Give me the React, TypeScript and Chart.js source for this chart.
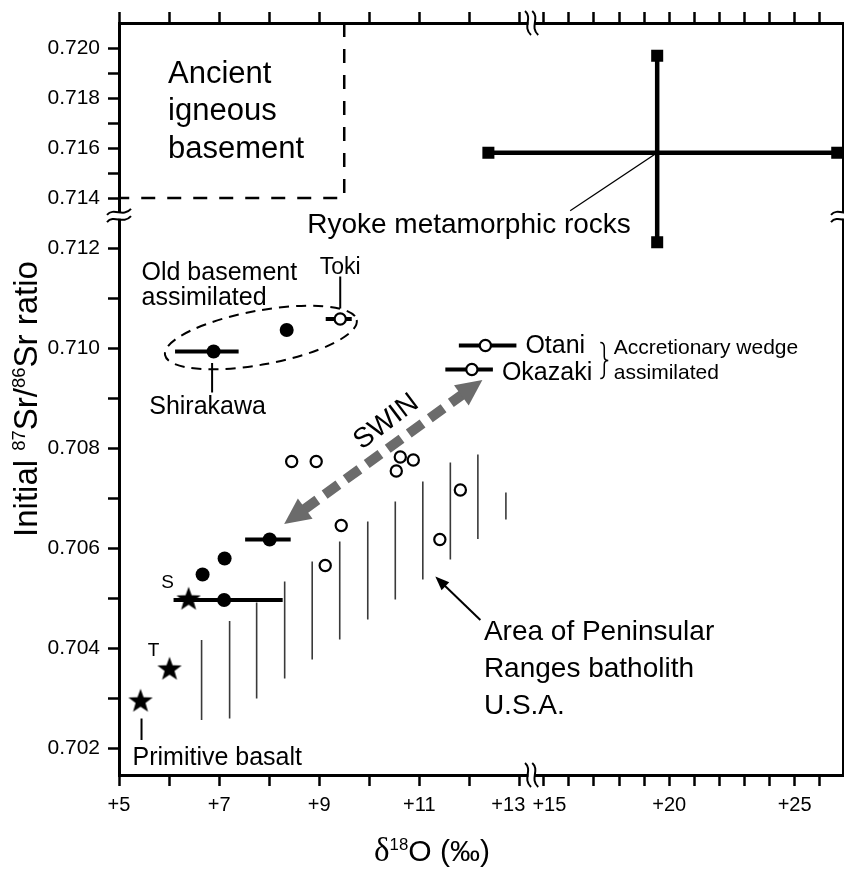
import React, { useEffect, useRef } from 'react';
import { Chart, registerables, LinearScale } from 'chart.js';

Chart.register(...registerables);

// ---------------- data ----------------
// filled circles (Japanese granitoids)
const filledX = [6.89, 8.35, 8.01, 7.11, 6.67, 7.10];
const filledY = [0.70993, 0.71036, 0.70617, 0.70579, 0.70547, 0.70496];

// open circles
const openX = [9.42, 12.32, 12.05, 8.45, 8.94, 10.62, 10.54, 10.88, 11.82, 9.44, 9.12, 11.41];
const openY = [0.71058, 0.71005, 0.70957, 0.70773, 0.70773, 0.70782, 0.70754, 0.70776, 0.70716, 0.70645, 0.70565, 0.70617];

// stars (S, T, primitive basalt)
const starX = [6.39, 6.01, 5.43];
const starY = [0.70499, 0.70359, 0.70295];

// horizontal error bars
const barY = [0.70993, 0.71058, 0.71005, 0.70957, 0.70617, 0.70496];
const barLow = [6.12, 9.13, 11.79, 11.52, 7.52, 6.09];
const barHigh = [7.39, 9.65, 12.94, 12.47, 8.43, 8.27];

// Peninsular Ranges batholith hatch lines
const hatchX = [6.65, 7.21, 7.75, 8.31, 8.86, 9.41, 9.97, 10.52, 11.07, 11.62, 12.17, 12.73];
const hatchTop = [0.70416, 0.70454, 0.70491, 0.70533, 0.70573, 0.70613, 0.70653, 0.70693, 0.70733, 0.70771, 0.70787, 0.70711];
const hatchBottom = [0.70256, 0.70259, 0.70299, 0.70339, 0.70377, 0.70417, 0.70457, 0.70497, 0.70537, 0.70577, 0.70618, 0.70657];

// Ryoke metamorphic rocks range: [min, centre, max]
const ryokeX = [12.38, 19.52, 26.7];
const ryokeY = [0.71223, 0.71581, 0.71969];

// Ancient igneous basement field: x from/to, y from/to
const basementBoxX = [5, 9.5];
const basementBoxY = [0.714, 0.721];

// axes
const xTicks = [5, 6, 7, 8, 9, 10, 11, 12, 13, 15, 16, 17, 18, 19, 20, 21, 22, 23, 24, 25, 26];
const xLabelValues = [5, 7, 9, 11, 13, 15, 20, 25];
const xLabelTexts = ['+5', '+7', '+9', '+11', '+13', '+15', '+20', '+25'];
const yTicks = [0.702, 0.703, 0.704, 0.705, 0.706, 0.707, 0.708, 0.709, 0.71, 0.711, 0.712, 0.714, 0.715, 0.716, 0.717, 0.718, 0.719, 0.72];
const yLabelValues = [0.702, 0.704, 0.706, 0.708, 0.71, 0.712, 0.714, 0.716, 0.718, 0.72];
const yLabelTexts = ['0.702', '0.704', '0.706', '0.708', '0.710', '0.712', '0.714', '0.716', '0.718', '0.720'];

const X_MIN = 5;
const X_MAX = 26.93;
const Y_MIN = 0.70146;
const Y_MAX = 0.721;

// ---------------- broken (piecewise linear) scale ----------------
type Seg = { from: number; to: number; w: number };
const SEGMENTS: Record<string, Seg[]> = {
  x: [
    { from: X_MIN, to: 13, w: 50 },
    { from: 13, to: 15, w: 12.2 },
    { from: 15, to: X_MAX, w: 25.05 },
  ],
  y: [
    { from: Y_MIN, to: 0.712, w: 50000 },
    { from: 0.712, to: Y_MAX, w: 25000 },
  ],
};

function segTotal(segs: Seg[]) {
  let t = 0;
  for (const s of segs) t += (s.to - s.from) * s.w;
  return t;
}
function toDecimal(v: number, segs: Seg[]) {
  const total = segTotal(segs);
  let acc = 0;
  for (let i = 0; i < segs.length; i++) {
    const s = segs[i];
    if (v <= s.to || i === segs.length - 1) return (acc + (v - s.from) * s.w) / total;
    acc += (s.to - s.from) * s.w;
  }
  return 0;
}
function fromDecimal(d: number, segs: Seg[]) {
  let t = d * segTotal(segs);
  for (let i = 0; i < segs.length; i++) {
    const s = segs[i];
    const len = (s.to - s.from) * s.w;
    if (t <= len || i === segs.length - 1) return s.from + t / s.w;
    t -= len;
  }
  return 0;
}

class BrokenScale extends LinearScale {
  static id = 'broken';
  static defaults = LinearScale.defaults;
  getPixelForValue(value: any) {
    if (value === null || value === undefined || Number.isNaN(+value)) return NaN;
    return this.getPixelForDecimal(toDecimal(+value, SEGMENTS[(this as any).axis]));
  }
  getValueForPixel(pixel: number) {
    return fromDecimal(this.getDecimalForPixel(pixel), SEGMENTS[(this as any).axis]);
  }
}
Chart.register(BrokenScale as any);

// ---------------- helpers ----------------
const FONT = '"Liberation Sans", Arial, Helvetica, sans-serif';
const near = (a: number, b: number) => Math.abs(a - b) < 1e-7;

function xLabel(v: number) {
  const i = xLabelValues.findIndex((u) => near(u, v));
  if (i < 0) return '';
  const t = xLabelTexts[i];
  if (near(v, 13)) return t + '    ';
  if (near(v, 15)) return '  ' + t;
  return t;
}
function yLabel(v: number) {
  const i = yLabelValues.findIndex((u) => near(u, v));
  return i < 0 ? '' : yLabelTexts[i];
}

function makeStar(): HTMLCanvasElement {
  const c = document.createElement('canvas');
  c.width = 28;
  c.height = 28;
  const g = c.getContext('2d')!;
  const R = 12.8;
  const r = 5.2;
  g.beginPath();
  for (let k = 0; k < 10; k++) {
    const rad = k % 2 === 0 ? R : r;
    const a = -Math.PI / 2 + (k * Math.PI) / 5;
    const px = 14 + rad * Math.cos(a);
    const py = 15 + rad * Math.sin(a);
    if (k === 0) g.moveTo(px, py);
    else g.lineTo(px, py);
  }
  g.closePath();
  g.fillStyle = '#000';
  g.fill();
  return c;
}

function drawBreak(ctx: CanvasRenderingContext2D, cx: number, cy: number, vertical: boolean) {
  ctx.save();
  ctx.translate(cx, cy);
  if (vertical) ctx.rotate(Math.PI / 2);
  ctx.fillStyle = '#fff';
  ctx.fillRect(-3, -3.2, 6, 6.4);
  ctx.strokeStyle = '#000';
  ctx.lineWidth = 2;
  for (const off of [-3.6, 3.6]) {
    ctx.beginPath();
    ctx.moveTo(-12, off + 3);
    ctx.bezierCurveTo(-5, off - 5, 4, off + 6, 12, off - 3);
    ctx.stroke();
  }
  ctx.restore();
}

type Part = { t: string; sup?: boolean; family?: string; scale?: number };
function drawRich(ctx: CanvasRenderingContext2D, parts: Part[], x: number, y: number, size: number) {
  const fontOf = (p: Part) => {
    const s = p.sup ? size * 0.56 : size * (p.scale || 1);
    return `${s}px ${p.family || FONT}`;
  };
  const widths = parts.map((p) => {
    ctx.font = fontOf(p);
    return ctx.measureText(p.t).width;
  });
  let cur = x - widths.reduce((a, b) => a + b, 0) / 2;
  ctx.textAlign = 'left';
  ctx.textBaseline = 'alphabetic';
  parts.forEach((p, i) => {
    ctx.font = fontOf(p);
    ctx.fillText(p.t, cur, p.sup ? y - size * 0.36 : y);
    cur += widths[i];
  });
}

// drawn under the data points
const underlayPlugin = {
  id: 'underlay',
  beforeDatasetsDraw(chart: any) {
    const ctx: CanvasRenderingContext2D = chart.ctx;
    const xs = chart.scales.x;
    const ys = chart.scales.y;
    const X = (v: number) => xs.getPixelForValue(v);
    const Y = (v: number) => ys.getPixelForValue(v);
    ctx.save();
    ctx.strokeStyle = '#000';
    ctx.lineCap = 'butt';

    // dashed ellipse: old basement assimilated
    const ex1 = X(5.92), ey1 = Y(0.70986), ex2 = X(9.75), ey2 = Y(0.71056);
    ctx.beginPath();
    ctx.setLineDash([10, 7]);
    ctx.lineWidth = 2;
    ctx.ellipse((ex1 + ex2) / 2, (ey1 + ey2) / 2, Math.hypot(ex2 - ex1, ey2 - ey1) / 2, 27, Math.atan2(ey2 - ey1, ex2 - ex1), 0, Math.PI * 2);
    ctx.stroke();
    ctx.setLineDash([]);

    const seg = (x1: number, y1: number, x2: number, y2: number, w: number) => {
      ctx.beginPath();
      ctx.lineWidth = w;
      ctx.moveTo(X(x1), Y(y1));
      ctx.lineTo(X(x2), Y(y2));
      ctx.stroke();
    };
    // label leaders
    seg(9.42, 0.71143, 9.42, 0.71079, 2);
    seg(6.86, 0.7097, 6.86, 0.70911, 2);
    seg(5.45, 0.70259, 5.45, 0.70216, 2);
    seg(19.52, 0.71581, 16.05, 0.71349, 1.3);

    // SWIN double arrow
    const ax = X(8.3), ay = Y(0.70648), bx = X(12.26), by = Y(0.70936);
    const len = Math.hypot(bx - ax, by - ay);
    const ux = (bx - ax) / len, uy = (by - ay) / len;
    const L = 26, W = 12.5;
    ctx.strokeStyle = '#6b6b6b';
    ctx.fillStyle = '#6b6b6b';
    ctx.lineWidth = 10;
    ctx.setLineDash([17, 9]);
    ctx.beginPath();
    ctx.moveTo(ax + ux * (L - 2), ay + uy * (L - 2));
    ctx.lineTo(bx - ux * (L - 2), by - uy * (L - 2));
    ctx.stroke();
    ctx.setLineDash([]);
    const head = (tx: number, ty: number, dx: number, dy: number) => {
      ctx.beginPath();
      ctx.moveTo(tx, ty);
      ctx.lineTo(tx + dx * L - dy * W, ty + dy * L + dx * W);
      ctx.lineTo(tx + dx * L + dy * W, ty + dy * L - dx * W);
      ctx.closePath();
      ctx.fill();
    };
    head(ax, ay, ux, uy);
    head(bx, by, -ux, -uy);

    // arrow to the Peninsular Ranges field
    const px1 = X(12.22), py1 = Y(0.70456), px2 = X(11.32), py2 = Y(0.70543);
    const l2 = Math.hypot(px2 - px1, py2 - py1);
    const vx = (px1 - px2) / l2, vy = (py1 - py2) / l2;
    ctx.strokeStyle = '#000';
    ctx.fillStyle = '#000';
    ctx.lineWidth = 2;
    ctx.beginPath();
    ctx.moveTo(px1, py1);
    ctx.lineTo(px2 + vx * 10, py2 + vy * 10);
    ctx.stroke();
    ctx.beginPath();
    ctx.moveTo(px2, py2);
    ctx.lineTo(px2 + vx * 14 - vy * 5.5, py2 + vy * 14 + vx * 5.5);
    ctx.lineTo(px2 + vx * 14 + vy * 5.5, py2 + vy * 14 - vx * 5.5);
    ctx.closePath();
    ctx.fill();
    ctx.restore();
  },
};

// texts, axis breaks and axis titles
const overlayPlugin = {
  id: 'overlay',
  afterDraw(chart: any) {
    const ctx: CanvasRenderingContext2D = chart.ctx;
    const area = chart.chartArea;
    const xs = chart.scales.x;
    const ys = chart.scales.y;
    const X = (v: number) => xs.getPixelForValue(v);
    const Y = (v: number) => ys.getPixelForValue(v);
    ctx.save();
    ctx.fillStyle = '#000';
    ctx.strokeStyle = '#000';
    const text = (s: string, xv: number, yv: number, size: number, align: CanvasTextAlign = 'left', baseline: CanvasTextBaseline = 'alphabetic', dx = 0, dy = 0) => {
      ctx.font = `${size}px ${FONT}`;
      ctx.textAlign = align;
      ctx.textBaseline = baseline;
      ctx.fillText(s, X(xv) + dx, Y(yv) + dy);
    };

    // axis breaks
    drawBreak(ctx, area.left, Y(0.7133), false);
    drawBreak(ctx, area.right, Y(0.7133), false);
    drawBreak(ctx, X(14), area.bottom, true);
    drawBreak(ctx, X(14), area.top, true);

    // annotations
    text('Ancient', 5.98, 0.718588, 31);
    text('igneous', 5.98, 0.71712, 31);
    text('basement', 5.98, 0.7156, 31);
    text('Ryoke metamorphic rocks', 8.76, 0.71259, 28);
    text('Old basement', 5.45, 0.71136, 25);
    text('assimilated', 5.45, 0.71086, 25);
    text('Toki', 9.42, 0.71148, 23, 'center');
    text('Shirakawa', 6.77, 0.70869, 25, 'center');
    text('Otani', 12.94, 0.71005, 25, 'left', 'alphabetic', 9, 7.6);
    text('Okazaki', 12.47, 0.70957, 25, 'left', 'alphabetic', 9, 10);
    text('Accretionary wedge', 17.79, 0.70988, 21);
    text('assimilated', 17.79, 0.70939, 21);
    text('Area of Peninsular', 12.29, 0.70416, 28);
    text('Ranges batholith', 12.29, 0.70343, 28);
    text('U.S.A.', 12.29, 0.70269, 28);
    text('S', 5.97, 0.70531, 19, 'center', 'middle');
    text('T', 5.69, 0.70395, 19, 'center', 'middle');
    text('Primitive basalt', 5.27, 0.70166, 25);

    // brace
    const bx = X(17.37), bt = Y(0.71011), bb = Y(0.70939), bm = (bt + bb) / 2;
    ctx.lineWidth = 1.5;
    ctx.beginPath();
    ctx.moveTo(bx - 3, bt);
    ctx.quadraticCurveTo(bx + 1, bt, bx + 1, bt + 5);
    ctx.lineTo(bx + 1, bm - 4);
    ctx.quadraticCurveTo(bx + 1, bm, bx + 5, bm);
    ctx.quadraticCurveTo(bx + 1, bm, bx + 1, bm + 4);
    ctx.lineTo(bx + 1, bb - 5);
    ctx.quadraticCurveTo(bx + 1, bb, bx - 3, bb);
    ctx.stroke();

    // SWIN label along arrow
    ctx.save();
    ctx.translate(X(10.34), Y(0.70852));
    ctx.rotate((-37 * Math.PI) / 180);
    ctx.font = `28px ${FONT}`;
    ctx.textAlign = 'center';
    ctx.textBaseline = 'middle';
    ctx.fillText('SWIN', 0, 0);
    ctx.restore();

    // axis titles
    ctx.save();
    ctx.translate(37, (area.top + area.bottom) / 2);
    ctx.rotate(-Math.PI / 2);
    drawRich(ctx, [{ t: 'Initial ' }, { t: '87', sup: true }, { t: 'Sr/' }, { t: '86', sup: true }, { t: 'Sr ratio' }], 0, 0, 33);
    ctx.restore();
    drawRich(ctx, [{ t: 'δ', family: '"Liberation Serif", "DejaVu Serif", serif', scale: 1.1 }, { t: '18', sup: true }, { t: 'O (‰)' }], area.left + 313, 861, 30);
    ctx.restore();
  },
};

const pts = (xs: number[], ys: number[]) => xs.map((x, i) => ({ x, y: ys[i] }));
const GAP = { x: null as any, y: null as any };

export default function App() {
  const ref = useRef<HTMLCanvasElement>(null);
  useEffect(() => {
    document.body.style.margin = '0';
    const canvas = ref.current!;
    const star = makeStar();

    const barData = barY.flatMap((y, i) => [{ x: barLow[i], y }, { x: barHigh[i], y }, GAP]);
    const hatchData = hatchX.flatMap((x, i) => [{ x, y: hatchTop[i] }, { x, y: hatchBottom[i] }, GAP]);
    const ryokeH = [{ x: ryokeX[0], y: ryokeY[1] }, { x: ryokeX[2], y: ryokeY[1] }];
    const ryokeV = [{ x: ryokeX[1], y: ryokeY[0] }, { x: ryokeX[1], y: ryokeY[2] }];
    const boxData = [
      { x: basementBoxX[1], y: basementBoxY[1] },
      { x: basementBoxX[1], y: basementBoxY[0] },
      { x: basementBoxX[0], y: basementBoxY[0] },
    ];

    const tickGrid = { drawOnChartArea: false, drawTicks: true, tickLength: 11, tickWidth: 2.5, tickColor: '#000' };
    const border = { display: true, width: 3, color: '#000' };

    const chart = new Chart(canvas, {
      type: 'line',
      data: {
        datasets: [
          { label: 'filled', data: pts(filledX, filledY), showLine: false, pointRadius: 7, pointBackgroundColor: '#000', pointBorderColor: '#000', pointBorderWidth: 0, order: 0 } as any,
          { label: 'open', data: pts(openX, openY), showLine: false, pointRadius: 5.6, pointBackgroundColor: '#fff', pointBorderColor: '#000', pointBorderWidth: 2.2, order: 1 },
          { label: 'stars', data: pts(starX, starY), showLine: false, pointStyle: star, pointRadius: 12, order: 2 },
          { label: 'bars', data: barData, borderColor: '#000', borderWidth: 4, pointRadius: 0, order: 5 },
          { label: 'ryokeH', data: ryokeH, borderColor: '#000', borderWidth: 4.5, pointStyle: 'rect', pointRadius: 8.5, pointBackgroundColor: '#000', pointBorderWidth: 0, order: 6 },
          { label: 'ryokeV', data: ryokeV, borderColor: '#000', borderWidth: 4.5, pointStyle: 'rect', pointRadius: 8.5, pointBackgroundColor: '#000', pointBorderWidth: 0, order: 7 },
          { label: 'box', data: boxData, borderColor: '#000', borderWidth: 2.5, borderDash: [14, 12], pointRadius: 0, order: 8 },
          { label: 'hatch', data: hatchData, borderColor: '#3a3a3a', borderWidth: 1.6, pointRadius: 0, order: 9 },
        ],
      },
      options: {
        animation: false,
        responsive: false,
        events: [],
        layout: { padding: 0, autoPadding: false },
        plugins: { legend: { display: false }, tooltip: { enabled: false } },
        scales: {
          x: {
            type: 'broken' as any,
            position: 'bottom',
            min: X_MIN,
            max: X_MAX,
            afterBuildTicks: (s: any) => { s.ticks = xTicks.map((v) => ({ value: v })); },
            afterFit: (s: any) => { s.height = 95; },
            ticks: { autoSkip: false, maxRotation: 0, minRotation: 0, padding: 7, color: '#000', font: { family: FONT, size: 20 }, callback: (v: any) => xLabel(+v) },
            grid: tickGrid,
            border,
          },
          x2: {
            type: 'broken' as any,
            position: 'top',
            axis: 'x',
            min: X_MIN,
            max: X_MAX,
            afterBuildTicks: (s: any) => { s.ticks = xTicks.map((v) => ({ value: v })); },
            afterFit: (s: any) => { s.height = 23; },
            ticks: { display: false },
            grid: tickGrid,
            border,
          },
          y: {
            type: 'broken' as any,
            position: 'left',
            min: Y_MIN,
            max: Y_MAX,
            afterBuildTicks: (s: any) => { s.ticks = yTicks.map((v) => ({ value: v })); },
            afterFit: (s: any) => { s.width = 119; },
            ticks: { autoSkip: false, padding: 8, color: '#000', font: { family: FONT, size: 21 }, callback: (v: any) => yLabel(+v) },
            grid: tickGrid,
            border,
          },
          y2: {
            type: 'broken' as any,
            position: 'right',
            axis: 'y',
            min: Y_MIN,
            max: Y_MAX,
            afterFit: (s: any) => { s.width = 1; },
            ticks: { display: false },
            grid: { display: false },
            border,
          },
        } as any,
      },
      plugins: [underlayPlugin, overlayPlugin],
    } as any);
    return () => chart.destroy();
  }, []);
  return (
    <div style={{ width: 844, height: 870, background: '#fff' }}>
      <canvas ref={ref} width={844} height={870} style={{ display: 'block', width: 844, height: 870 }} />
    </div>
  );
}
